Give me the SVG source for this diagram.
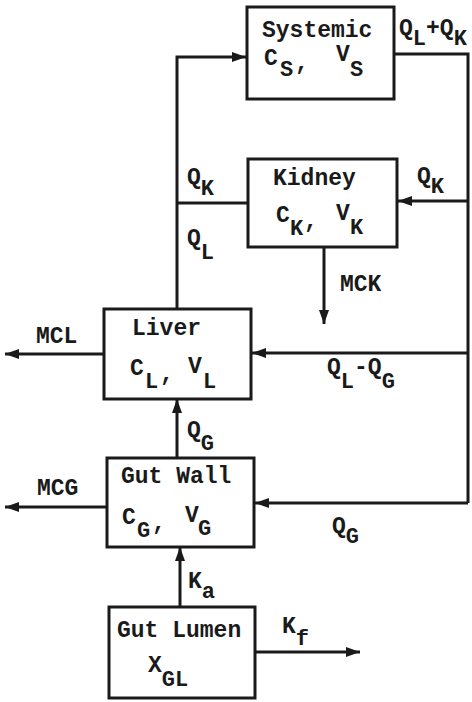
<svg xmlns="http://www.w3.org/2000/svg" width="472" height="702" viewBox="0 0 472 702">
<style>
text{font-family:"Liberation Mono","Courier New",monospace;font-size:23px;font-weight:bold;fill:#1a1a1a}
.s{font-size:22px}
rect{fill:none;stroke:#1a1a1a;stroke-width:3}
.c{fill:none;stroke:#1a1a1a;stroke-width:3}
</style>
<defs>
<marker id="a" markerUnits="userSpaceOnUse" markerWidth="16" markerHeight="12" refX="14" refY="6" orient="auto">
<path d="M0,1 L14,6 L0,11 Z" fill="#1a1a1a"/>
</marker>
</defs>
<rect width="472" height="702" fill="#fff" style="stroke:none"/>
<g id="connectors">
<polyline class="c" points="177,309 177,57 246,57" marker-end="url(#a)"/>
<line class="c" x1="248" y1="203" x2="177" y2="203"/>
<polyline class="c" points="394,54 468,54 468,503"/>
<line class="c" x1="468" y1="201" x2="398" y2="201" marker-end="url(#a)"/>
<line class="c" x1="468" y1="353" x2="252" y2="353" marker-end="url(#a)"/>
<line class="c" x1="468" y1="503" x2="255" y2="503" marker-end="url(#a)"/>
<line class="c" x1="324" y1="247" x2="324" y2="324" marker-end="url(#a)"/>
<line class="c" x1="104" y1="354" x2="5" y2="354" marker-end="url(#a)"/>
<line class="c" x1="107" y1="507" x2="5" y2="507" marker-end="url(#a)"/>
<line class="c" x1="177" y1="458" x2="177" y2="399" marker-end="url(#a)"/>
<line class="c" x1="180" y1="607" x2="180" y2="547" marker-end="url(#a)"/>
<line class="c" x1="255" y1="652" x2="360" y2="652" marker-end="url(#a)"/>
</g>
<g id="labels">
<text x="399" y="35">Q<tspan class="s" dy="10">L</tspan><tspan dy="-10">+Q</tspan><tspan class="s" dy="10">K</tspan></text>
<text x="187" y="184">Q<tspan class="s" dy="11">K</tspan></text>
<text x="417" y="183">Q<tspan class="s" dy="10">K</tspan></text>
<text x="187" y="245">Q<tspan class="s" dy="14">L</tspan></text>
<text x="340" y="291">MCK</text>
<text x="36" y="343">MCL</text>
<text x="327" y="374">Q<tspan class="s" dy="14">L</tspan><tspan dy="-14">-Q</tspan><tspan class="s" dy="14">G</tspan></text>
<text x="187" y="437">Q<tspan class="s" dy="13">G</tspan></text>
<text x="37" y="495">MCG</text>
<text x="332" y="533">Q<tspan class="s" dy="10">G</tspan></text>
<text x="188" y="588">K<tspan class="s" dy="10">a</tspan></text>
<text x="282" y="633">K<tspan class="s" dy="12">f</tspan></text>
</g>
<g id="systemic">
<rect x="247" y="7" width="147" height="92"/>
<text x="262" y="37">Systemic</text>
<text x="264" y="65">C</text><text class="s" x="280" y="76">S</text><text x="295" y="70">,</text>
<text x="336" y="61">V</text><text class="s" x="350" y="76">S</text>
</g>
<g id="kidney">
<rect x="248" y="159" width="149" height="88"/>
<text x="273" y="185">Kidney</text>
<text x="276" y="222">C</text><text class="s" x="290" y="235">K</text><text x="304" y="228">,</text>
<text x="336" y="220">V</text><text class="s" x="350" y="234">K</text>
</g>
<g id="liver">
<rect x="104" y="309" width="147" height="90"/>
<text x="132" y="335">Liver</text>
<text x="130" y="375">C</text><text class="s" x="145" y="388">L</text><text x="160" y="381">,</text>
<text x="188" y="373">V</text><text class="s" x="203" y="388">L</text>
</g>
<g id="gutwall">
<rect x="107" y="458" width="147" height="89"/>
<text x="121" y="483">Gut Wall</text>
<text x="122" y="524">C</text><text class="s" x="137" y="537">G</text><text x="152" y="530">,</text>
<text x="185" y="522">V</text><text class="s" x="198" y="535">G</text>
</g>
<g id="gutlumen">
<rect x="109" y="607" width="146" height="91"/>
<text x="117" y="637">Gut Lumen</text>
<text x="148" y="672">X<tspan class="s" dy="14">GL</tspan></text>
</g>
</svg>
